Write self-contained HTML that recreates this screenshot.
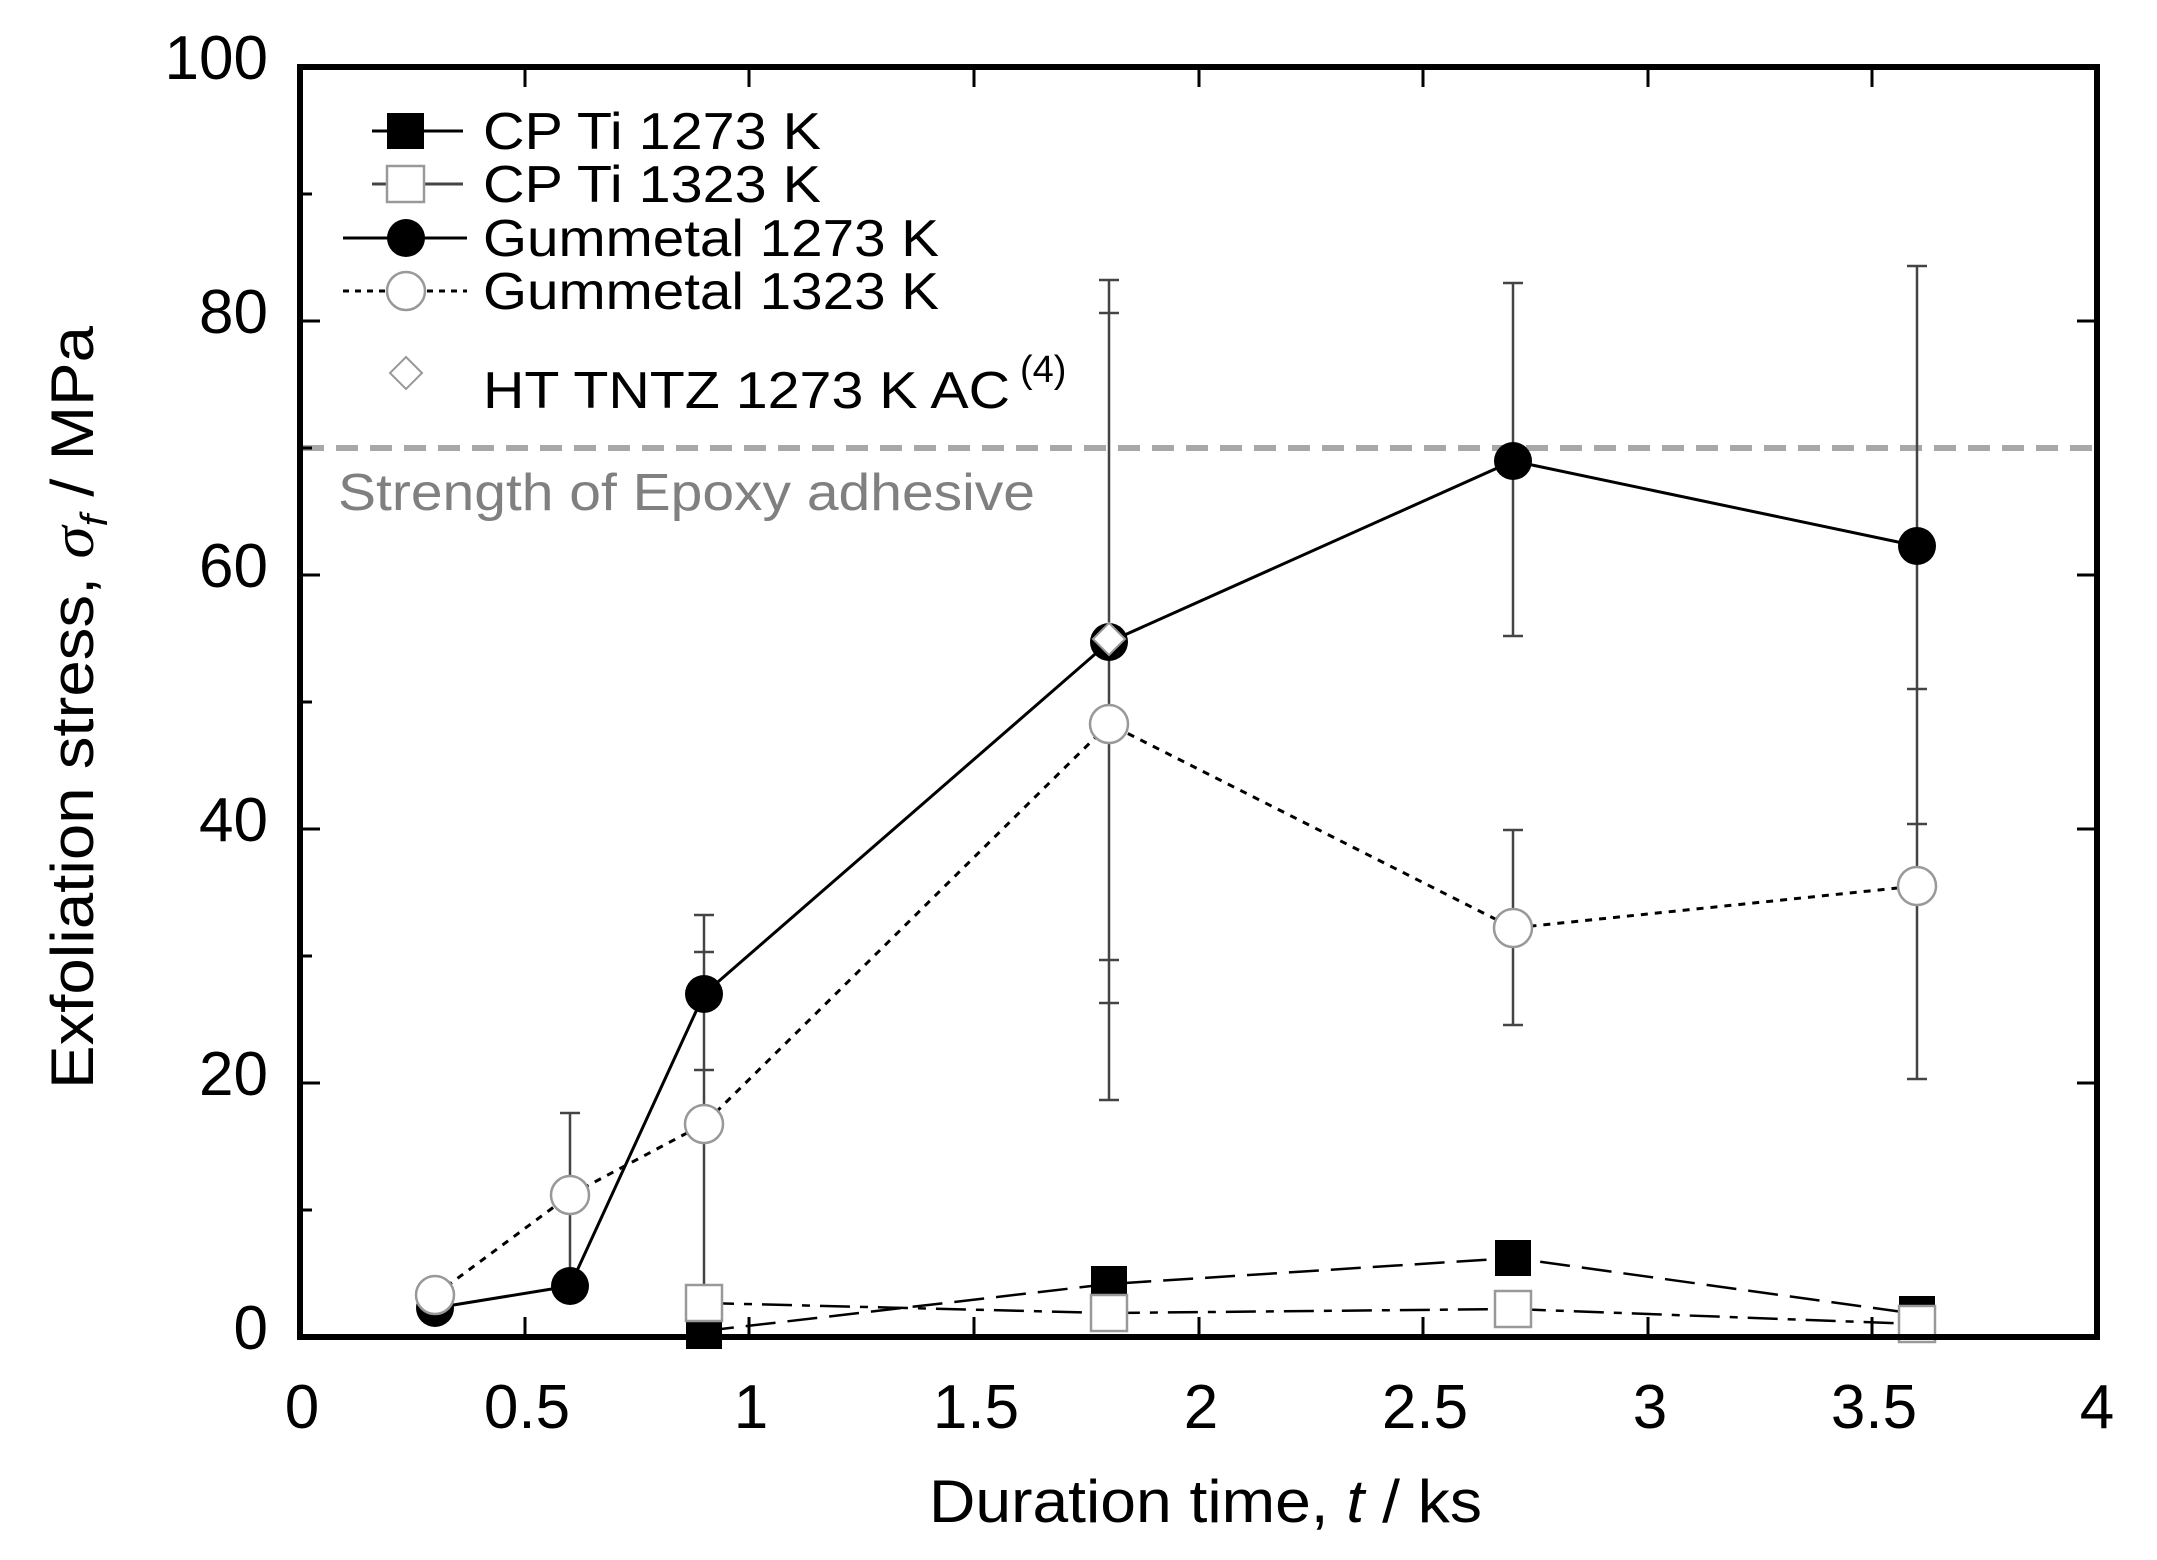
<!DOCTYPE html>
<html><head><meta charset="utf-8"><style>html,body{margin:0;padding:0;background:#fff}svg{display:block}</style></head>
<body>
<svg width="2157" height="1560" viewBox="0 0 2157 1560" xmlns="http://www.w3.org/2000/svg" font-family="Liberation Sans, sans-serif">
<rect width="2157" height="1560" fill="#fff"/>
<line x1="302" y1="448" x2="2095" y2="448" stroke="#a8a8a8" stroke-width="6" stroke-dasharray="22,12"/>
<text x="338" y="510" font-size="52" fill="#808080" textLength="697" lengthAdjust="spacingAndGlyphs">Strength of Epoxy adhesive</text>
<g stroke="#000" stroke-width="3">
<line x1="300" y1="1083" x2="320" y2="1083"/><line x1="300" y1="829" x2="320" y2="829"/><line x1="300" y1="575" x2="320" y2="575"/><line x1="300" y1="321" x2="320" y2="321"/>
<line x1="300" y1="1210" x2="312" y2="1210"/><line x1="300" y1="956" x2="312" y2="956"/><line x1="300" y1="702" x2="312" y2="702"/><line x1="300" y1="448" x2="312" y2="448"/><line x1="300" y1="194" x2="312" y2="194"/>
<line x1="2097" y1="1083" x2="2077" y2="1083"/><line x1="2097" y1="829" x2="2077" y2="829"/><line x1="2097" y1="575" x2="2077" y2="575"/><line x1="2097" y1="321" x2="2077" y2="321"/>
<line x1="525" y1="1337" x2="525" y2="1317"/><line x1="749" y1="1337" x2="749" y2="1317"/><line x1="974" y1="1337" x2="974" y2="1317"/><line x1="1199" y1="1337" x2="1199" y2="1317"/><line x1="1423" y1="1337" x2="1423" y2="1317"/><line x1="1648" y1="1337" x2="1648" y2="1317"/><line x1="1872" y1="1337" x2="1872" y2="1317"/>
<line x1="525" y1="67" x2="525" y2="87"/><line x1="749" y1="67" x2="749" y2="87"/><line x1="974" y1="67" x2="974" y2="87"/><line x1="1199" y1="67" x2="1199" y2="87"/><line x1="1423" y1="67" x2="1423" y2="87"/><line x1="1648" y1="67" x2="1648" y2="87"/><line x1="1872" y1="67" x2="1872" y2="87"/>
</g>
<g stroke="#444" stroke-width="2.5" fill="none">
<path d="M570 1274V1113M560 1113H580M560 1274H580"/>
<path d="M704 1337V915M694 915H714M694 952H714M694 1070H714"/>
<path d="M1109 1100V280M1099 280H1119M1099 313H1119M1099 960H1119M1099 1003H1119M1099 1100H1119"/>
<path d="M1513 636V283M1503 283H1523M1503 636H1523"/>
<path d="M1513 1025V830M1503 830H1523M1503 1025H1523"/>
<path d="M1917 1079V266M1907 266H1927M1907 689H1927M1907 824H1927M1907 1079H1927"/>
</g>
<polyline points="704,1331 1109,1284 1513,1258 1917,1314" fill="none" stroke="#000" stroke-width="2.5" stroke-dasharray="30,12"/>
<polyline points="704,1303 1109,1313 1513,1309 1917,1324" fill="none" stroke="#000" stroke-width="2.5" stroke-dasharray="30,10,8,10"/>
<polyline points="435,1295 570,1195 704,1124 1109,724 1513,928 1917,886" fill="none" stroke="#000" stroke-width="3" stroke-dasharray="7,7"/>
<polyline points="435,1308 570,1286 704,994 1109,642 1513,461 1917,546" fill="none" stroke="#000" stroke-width="3"/>
<g fill="#000"><rect x="686" y="1313" width="36" height="36"/><rect x="1091" y="1266" width="36" height="36"/><rect x="1495" y="1240" width="36" height="36"/><rect x="1899" y="1296" width="36" height="36"/></g>
<g fill="#fff" stroke="#999" stroke-width="2.5"><rect x="686" y="1285" width="36" height="36"/><rect x="1091" y="1295" width="36" height="36"/><rect x="1495" y="1291" width="36" height="36"/><rect x="1899" y="1306" width="36" height="36"/></g>
<g fill="#000"><circle cx="435" cy="1308" r="19"/><circle cx="570" cy="1286" r="19"/><circle cx="704" cy="994" r="19"/><circle cx="1109" cy="642" r="19"/><circle cx="1513" cy="461" r="19"/><circle cx="1917" cy="546" r="19"/></g>
<g fill="#fff" stroke="#999" stroke-width="2.5"><circle cx="435" cy="1295" r="19"/><circle cx="570" cy="1195" r="19"/><circle cx="704" cy="1124" r="19"/><circle cx="1109" cy="724" r="19"/><circle cx="1513" cy="928" r="19"/><circle cx="1917" cy="886" r="19"/></g>
<path d="M1109 623L1125 639L1109 655L1093 639Z" fill="#fff" stroke="#999" stroke-width="2"/>
<rect x="300" y="67" width="1797" height="1270" fill="none" stroke="#000" stroke-width="6"/>
<line x1="372" y1="131" x2="463" y2="131" stroke="#000" stroke-width="3"/><rect x="387" y="113" width="37" height="36" fill="#000"/>
<line x1="372" y1="184" x2="463" y2="184" stroke="#444" stroke-width="3"/><rect x="387" y="166" width="37" height="36" fill="#fff" stroke="#999" stroke-width="2.5"/>
<line x1="343" y1="238" x2="467" y2="238" stroke="#000" stroke-width="3"/><circle cx="406" cy="238" r="19"/>
<line x1="343" y1="291" x2="467" y2="291" stroke="#000" stroke-width="3" stroke-dasharray="6,6"/><circle cx="406" cy="291" r="19" fill="#fff" stroke="#999" stroke-width="2.5"/>
<path d="M406 357L422 373L406 389L390 373Z" fill="#fff" stroke="#999" stroke-width="2"/>
<g font-size="52" fill="#000">
<text x="483" y="149" textLength="338" lengthAdjust="spacingAndGlyphs">CP Ti 1273 K</text>
<text x="483" y="202" textLength="338" lengthAdjust="spacingAndGlyphs">CP Ti 1323 K</text>
<text x="483" y="256" textLength="456" lengthAdjust="spacingAndGlyphs">Gummetal 1273 K</text>
<text x="483" y="309" textLength="456" lengthAdjust="spacingAndGlyphs">Gummetal 1323 K</text>
<text x="483" y="408" textLength="527" lengthAdjust="spacingAndGlyphs">HT TNTZ 1273 K AC</text>
</g>
<text x="1020" y="382" font-size="38">(4)</text>
<g font-size="62" fill="#000" text-anchor="end">
<text x="268" y="1349">0</text><text x="268" y="1095">20</text><text x="268" y="841">40</text><text x="268" y="587">60</text><text x="268" y="333">80</text><text x="268" y="79">100</text>
</g>
<g font-size="62" fill="#000" text-anchor="middle">
<text x="302" y="1428">0</text><text x="527" y="1428">0.5</text><text x="751" y="1428">1</text><text x="976" y="1428">1.5</text><text x="1201" y="1428">2</text><text x="1425" y="1428">2.5</text><text x="1650" y="1428">3</text><text x="1874" y="1428">3.5</text><text x="2097" y="1428">4</text>
</g>
<text x="929" y="1522" font-size="60" textLength="553" lengthAdjust="spacingAndGlyphs">Duration time, <tspan font-style="italic">t</tspan> / ks</text>
<text transform="translate(93,1089) rotate(-90)" font-size="60" textLength="763" lengthAdjust="spacingAndGlyphs">Exfoliation stress, <tspan font-style="italic" font-family="Liberation Serif, serif">σ</tspan><tspan font-size="38" font-style="italic" dy="14">f</tspan><tspan dy="-14"> / MPa</tspan></text>
</svg>
</body></html>
